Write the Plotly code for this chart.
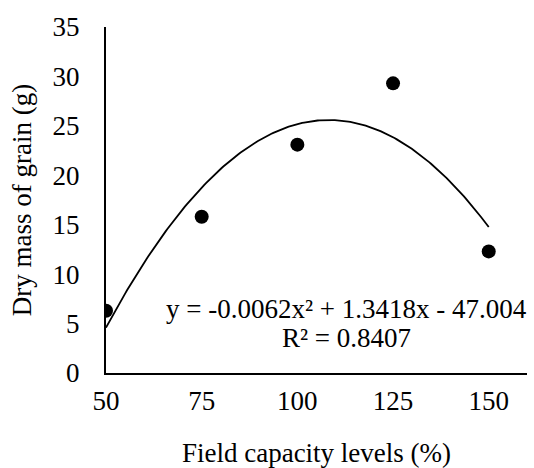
import numpy as np
import plotly.graph_objects as go

field_capacity = [50, 75, 100, 125, 150]
dry_mass = [6.3, 15.8, 23.1, 29.3, 12.3]
fit_coeffs = [-0.0062, 1.3418, -47.004]  # a x^2 + b x + c
x_ticks = [50, 75, 100, 125, 150]
y_ticks = [0, 5, 10, 15, 20, 25, 30, 35]
eq_text = "y = -0.0062x² + 1.3418x - 47.004"
r2_text = "R² = 0.8407"

xf = np.linspace(min(field_capacity), max(field_capacity), 200)
yf = np.polyval(fit_coeffs, xf)

FONT = "Liberation Serif"
FS = 27

fig = go.Figure()
fig.add_trace(go.Scatter(x=xf, y=yf, mode="lines",
                         line=dict(color="black", width=1.8), hoverinfo="skip"))
fig.add_trace(go.Scatter(x=field_capacity, y=dry_mass, mode="markers",
                         marker=dict(color="black", size=14)))

fig.update_layout(
    width=534, height=468,
    margin=dict(l=106, r=7, t=27, b=95, autoexpand=False),
    paper_bgcolor="white", plot_bgcolor="white",
    showlegend=False,
    font=dict(family=FONT, size=FS, color="black"),
    xaxis=dict(range=[50, 160], tickvals=x_ticks, showgrid=False, zeroline=False,
               showline=True, linecolor="black", linewidth=2, ticks="",
               ticklabelstandoff=3, automargin=False,
               title=dict(text="Field capacity levels (%)", standoff=29,
                          font=dict(family=FONT, size=FS))),
    yaxis=dict(range=[0, 35], tickvals=y_ticks, showgrid=False, zeroline=False,
               showline=True, linecolor="black", linewidth=2, ticks="",
               ticklabelstandoff=19, automargin=False,
               title=dict(text="Dry mass of grain (g)", standoff=13,
                          font=dict(family=FONT, size=FS))),
    annotations=[
        dict(x=0.572, y=0.185, xref="paper", yref="paper", text=eq_text,
             showarrow=False, xanchor="center", yanchor="middle",
             font=dict(family=FONT, size=FS, color="black")),
        dict(x=0.572, y=0.101, xref="paper", yref="paper", text=r2_text,
             showarrow=False, xanchor="center", yanchor="middle",
             font=dict(family=FONT, size=FS, color="black")),
    ],
)

fig.write_html("out.html", config={"displayModeBar": False},
               post_script="document.body.style.margin='0';")
